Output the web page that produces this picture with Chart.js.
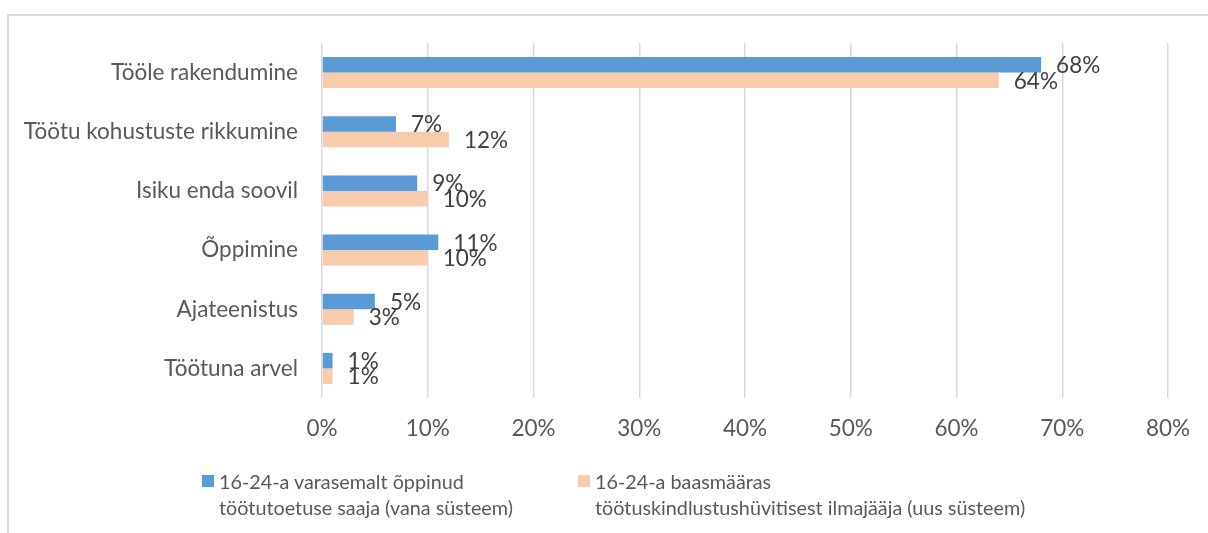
<!DOCTYPE html>
<html>
<head>
<meta charset="utf-8">
<script src="https://cdn.jsdelivr.net/npm/chart.js@4"></script>
<style>
  html, body { margin: 0; padding: 0; background: #fff; overflow: hidden; }
  #wrap { position: relative; width: 1208px; height: 533px; }
  #frame { position: absolute; left: 7px; top: 14px; width: 1400px; height: 700px; border: 2px solid #d9d9d9; box-sizing: border-box; }
  #chart { position: absolute; left: 0; top: 0; }
  .legend { position: absolute; font-family: Lato, "Open Sans", sans-serif; font-size: 19.8px; color: #595959; line-height: 26px; white-space: nowrap; }
  .legend .box { position: absolute; left: 0; top: 7px; width: 12px; height: 12px; }
  .legend .txt { margin-left: 17px; }
</style>
</head>
<body>
<div id="wrap">
  <div id="frame"></div>
  <canvas id="chart" width="1208" height="533"></canvas>
  <div class="legend" style="left:202px; top:468px;">
    <div class="box" style="background:#5b9bd5"></div>
    <div class="txt">16-24-a varasemalt õppinud<br>töötutoetuse saaja (vana süsteem)</div>
  </div>
  <div class="legend" style="left:578px; top:468px;">
    <div class="box" style="background:#f8cbad"></div>
    <div class="txt">16-24-a baasmääras<br>töötuskindlustushüvitisest ilmajääja (uus süsteem)</div>
  </div>
</div>
<script>
'use strict';
const categories = ['Tööle rakendumine', 'Töötu kohustuste rikkumine', 'Isiku enda soovil', 'Õppimine', 'Ajateenistus', 'Töötuna arvel'];
const oldSystem = [68, 7, 9, 11, 5, 1];
const newSystem = [64, 12, 10, 10, 3, 1];
const seriesNames = ['16-24-a varasemalt õppinud töötutoetuse saaja (vana süsteem)', '16-24-a baasmääras töötuskindlustushüvitisest ilmajääja (uus süsteem)'];
const xTicks = [0, 10, 20, 30, 40, 50, 60, 70, 80];

const fontFamily = 'Lato, "Open Sans", sans-serif';

const valueLabels = {
  id: 'valueLabels',
  afterDatasetsDraw(chart) {
    const ctx = chart.ctx;
    ctx.save();
    ctx.font = '22.5px ' + fontFamily;
    ctx.fillStyle = '#404040';
    ctx.textAlign = 'left';
    ctx.textBaseline = 'middle';
    chart.data.datasets.forEach((ds, i) => {
      chart.getDatasetMeta(i).data.forEach((bar, j) => {
        ctx.fillText(ds.data[j] + '%', bar.x + 15, bar.y + 1);
      });
    });
    ctx.restore();
  }
};

new Chart(document.getElementById('chart'), {
  type: 'bar',
  data: {
    labels: categories,
    datasets: [
      { label: seriesNames[0], data: oldSystem, backgroundColor: '#5b9bd5', barPercentage: 1, categoryPercentage: 0.525 },
      { label: seriesNames[1], data: newSystem, backgroundColor: '#f8cbad', barPercentage: 1, categoryPercentage: 0.525 }
    ]
  },
  options: {
    indexAxis: 'y',
    responsive: false,
    animation: false,
    layout: { padding: { top: 43, right: 40, left: 0, bottom: 0 } },
    plugins: { legend: { display: false }, tooltip: { enabled: false } },
    scales: {
      x: {
        min: 0,
        max: 80,
        afterBuildTicks(scale) { scale.ticks = xTicks.map(v => ({ value: v })); },
        afterFit(scale) { scale.height = 135; },
        border: { display: false },
        grid: { color: '#d9d9d9', lineWidth: 1.5, drawTicks: false },
        ticks: {
          padding: 17,
          color: '#595959',
          font: { family: fontFamily, size: 22.5 },
          callback: v => v + '%'
        }
      },
      y: {
        afterFit(scale) { scale.width = 322; },
        border: { display: false },
        grid: { display: false, drawTicks: false },
        ticks: {
          padding: 24,
          color: '#595959',
          font: { family: fontFamily, size: 22.5 }
        }
      }
    }
  },
  plugins: [valueLabels]
});
</script>
</body>
</html>
